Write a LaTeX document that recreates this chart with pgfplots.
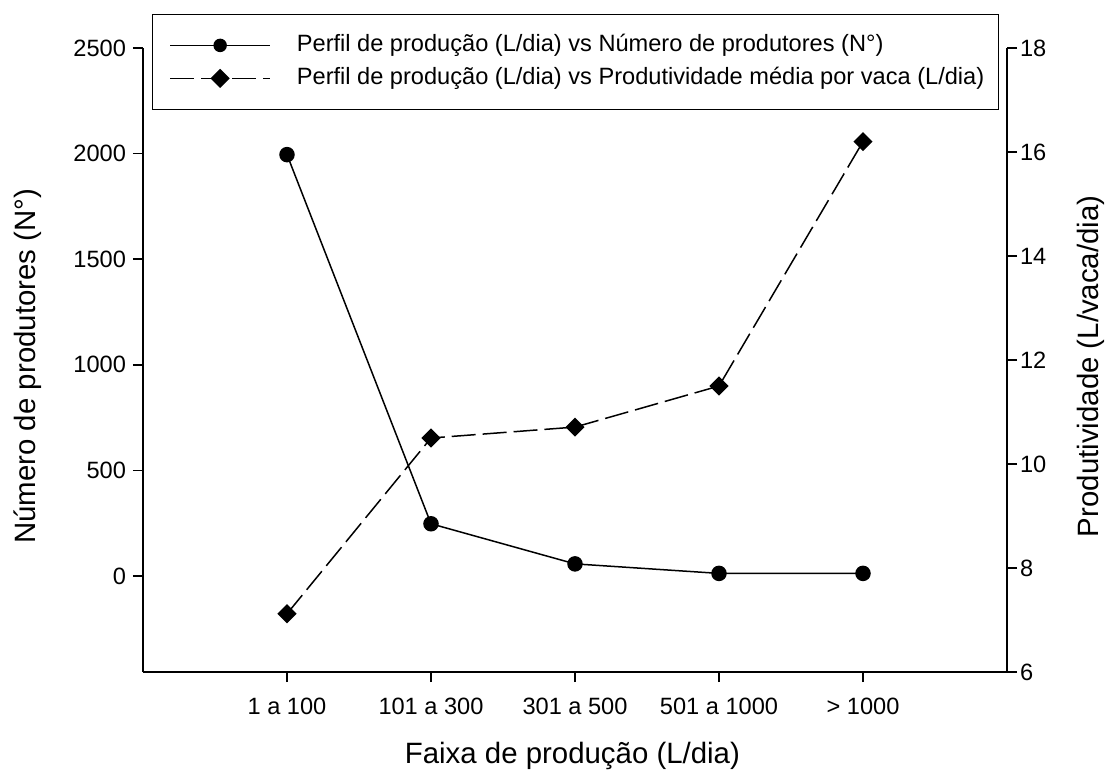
\documentclass[border=0pt]{standalone}
\usepackage{fontspec}
\setmainfont{Liberation Sans}
\usepackage{pgfplots}
\pgfplotsset{compat=1.18}
\begin{document}
\begin{tikzpicture}
\pgfplotsset{
  common/.style={
    scale only axis, width=432pt, height=312pt,
    xmin=-1, xmax=5,
    tick align=outside, major tick length=5pt,
    every tick/.style={black, line width=0.75pt},
    axis line style={line width=0.75pt},
    tick label style={font=\fontsize{11.8}{14}\selectfont},
    label style={font=\fontsize{14.7}{17}\selectfont},
    /pgf/number format/assume math mode=true,
    /pgf/number format/1000 sep={},
  },
}
\begin{axis}[common,
  axis x line*=bottom, axis y line*=left,
  ymin=-455, ymax=2500, ytick={0,500,...,2500},
  xtick={0,1,2,3,4},
  xticklabels={1 a 100,101 a 300,301 a 500,501 a 1000,> 1000},
  xticklabel style={yshift=-4.5pt},
  xlabel={Faixa de produção (L/dia)},
  ylabel={Número de produtores (N°)},
  xlabel style={at={(axis description cs:0.497,-0.135)}, anchor=center},
  ylabel style={at={(axis description cs:-0.133,0.49)}, anchor=center},
]
\coordinate (SW) at (rel axis cs:0,0);
\coordinate (NE) at (rel axis cs:1,1);
\addplot[black, line width=0.75pt, mark=*, mark size=3.5pt] coordinates {(0,1995) (1,247) (2,57) (3,12) (4,12)};
\end{axis}
\begin{axis}[common,
  axis x line=none, axis y line*=right,
  ymin=6, ymax=18, ytick={6,8,...,18},
  yticklabel style={xshift=-2pt},
  ylabel={Produtividade (L/vaca/dia)},
  ylabel style={at={(axis description cs:1.097,0.49)}, anchor=center},
  legend style={at={(axis description cs:0.0104,1.0545)}, anchor=north west,
    draw=black, inner xsep=8.5pt, inner ysep=9.5pt, row sep=4.5pt, column sep=13pt,
    nodes={inner sep=0pt, text height=9pt, text depth=3pt},
    font=\fontsize{11.8}{14}\selectfont},
  legend cell align=left,
  legend image code/.code={\draw[mark repeat=2,mark phase=2,#1] plot coordinates {(0pt,0pt) (25pt,0pt) (50pt,0pt)};},
]
\addlegendimage{black, line width=0.75pt, mark=*, mark size=3pt}
\addlegendentry{\makebox[342pt][l]{Perfil de produção (L/dia) vs Número de produtores (N°)}}
\addplot[black, line width=0.75pt, dash pattern=on 12pt off 3.5pt, mark=square*, mark size=3pt, mark options={solid, rotate=45}] coordinates {(0,7.12) (1,10.5) (2,10.71) (3,11.5) (4,16.2)};
\addlegendentry{\makebox[342pt][l]{Perfil de produção (L/dia) vs Produtividade média por vaca (L/dia)}}
\end{axis}
\pgfresetboundingbox
\useasboundingbox ([xshift=-71.5pt,yshift=-49.5pt]SW) rectangle ([xshift=51pt,yshift=24pt]NE);
\end{tikzpicture}
\end{document}
